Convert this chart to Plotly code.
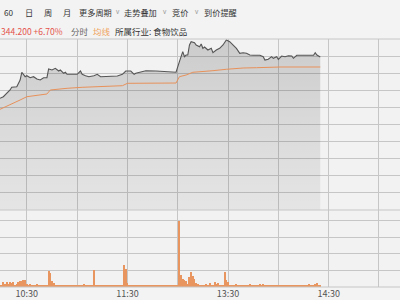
import plotly.graph_objects as go

# ---------------- data (minutes since 9:30 open) ----------------
price_min = [44, 46, 50, 51, 54, 56, 57, 59, 60, 62, 64, 66, 68, 70, 72, 73, 75, 76, 77, 79,
             80, 82, 83, 84, 90, 92, 93, 95, 97, 100, 102, 104, 108, 114, 117, 119, 122, 124, 125, 129,
             131, 137, 143, 149, 151, 152, 153, 154, 155, 156, 157, 158, 160, 161, 163, 164, 165, 166, 168, 170,
             171, 173, 175, 177, 178, 179, 181, 183, 185, 187, 189, 191, 193, 195, 199, 201, 202, 204, 206, 207,
             209, 210, 212, 214, 216, 218, 219, 221, 225, 229, 231, 232, 233, 235]
price = [330.97, 331.48, 333.63, 334.49, 334.68, 336.82, 339.29, 337.88, 338.20, 337.56,
         337.88, 337.14, 336.82, 337.56, 337.56, 340.34, 340.02, 340.34, 340.57, 339.70,
         340.02, 338.97, 339.29, 338.65, 338.65, 339.70, 338.65, 338.20, 337.88, 338.20,
         338.65, 337.88, 337.88, 338.10, 338.65, 339.70, 339.70, 338.65, 338.97, 339.48,
         339.80, 339.70, 339.48, 339.29, 342.68, 344.28, 345.88, 344.28, 344.82, 344.82,
         348.02, 349.08, 348.76, 348.02, 347.48, 348.34, 346.96, 347.38, 346.42, 346.96,
         345.56, 346.42, 346.96, 348.02, 348.76, 349.62, 349.08, 348.02, 346.96, 345.37,
         345.56, 345.37, 344.82, 344.73, 344.73, 344.28, 343.22, 343.45, 344.28, 343.77,
         344.28, 343.45, 344.50, 344.28, 344.60, 344.50, 343.77, 344.73, 344.73, 344.73,
         344.73, 345.56, 344.82, 344.20]

avg_min = [44, 50, 56, 60, 64, 72, 74, 78, 84, 93, 104, 117, 120, 127, 139, 149, 151, 155, 159, 163,
           171, 179, 183, 189, 197, 205, 211, 235]
avg = [327.45, 328.83, 330.43, 331.48, 331.80, 332.35, 333.63, 333.94, 334.17, 334.49,
       334.68, 335.00, 335.77, 335.77, 335.86, 335.86, 337.88, 338.42, 339.29, 339.54,
       339.80, 340.25, 340.44, 340.66, 340.76, 340.89, 340.98, 340.98]

vol_min = list(range(44, 236))
volume = [70, 60, 150, 90, 160, 100, 150, 120, 150, 60,      # 44-53
          80, 140, 180, 180, 200, 220, 90, 50, 100, 45,      # 54-63
          70, 50, 100, 45, 60, 45, 40, 50, 40, 470,          # 64-73
          420, 180, 130, 50, 40, 45, 40, 45, 40, 50,         # 74-83
          40, 45, 40, 40, 50, 40, 45, 40, 45, 40,            # 84-93
          90, 50, 40, 45, 40, 45, 520, 50, 40, 45,           # 94-103
          40, 40, 45, 40, 40, 45, 40, 40, 45, 40,            # 104-113
          70, 45, 40, 50, 670, 540, 120, 50, 45, 40,         # 114-123
          40, 45, 40, 40, 45, 40, 40, 45, 40, 40,            # 124-133
          45, 40, 40, 45, 40, 40, 45, 40, 40, 45,            # 134-143
          40, 40, 45, 40, 50, 45, 50, 1970, 370, 240,        # 144-153
          200, 170, 90, 300, 440, 320, 240, 120, 80, 70,     # 154-163
          50, 60, 50, 90, 50, 120, 60, 50, 140, 90,          # 164-173
          120, 50, 45, 60, 440, 220, 140, 60, 45, 50,        # 174-183
          45, 80, 45, 40, 60, 45, 40, 45, 40, 100,           # 184-193
          45, 70, 40, 45, 40, 100, 45, 90, 40, 45,           # 194-203
          40, 40, 45, 40, 40, 45, 40, 40, 45, 40,            # 204-213
          40, 45, 40, 40, 70, 40, 45, 40, 40, 45,            # 214-223
          40, 40, 45, 70, 100, 45, 45, 40, 90, 120,          # 224-233
          45, 40]                                            # 234-235

prev_close = 322.59
price_step = 5.47
grid_vals = [prev_close + k * price_step for k in range(-5, 6)]

time_ticks = [60, 90, 120, 150, 180, 210, 240, 270]
time_text = ["10:30", "", "11:30", "", "13:30", "", "14:30", ""]

header1 = [("60", 2.0), ("日", 22.5), ("周", 41.5), ("月", 60.5), ("更多周期", 77.0),
           ("走势叠加", 122.0), ("竞价", 169.5), ("到价提醒", 201.5)]
chevrons = [113.5, 160.5, 192.5]

# ---------------- figure ----------------
W, H = 400, 300
TOP, BOT = 39, 13
plot_h = H - TOP - BOT
split = (287 - 210) / plot_h

CJK = "Noto Sans CJK SC, Noto Sans, sans-serif"
grid_c = "#c6c6c6"

fig = go.Figure()

fig.add_trace(go.Scatter(
    x=price_min, y=price, mode="lines",
    line=dict(color="#555555", width=1.1),
    fill="tozeroy",
    fillgradient=dict(type="vertical",
                      colorscale=[[0, "rgba(0,0,0,0.055)"], [0.5, "rgba(0,0,0,0.10)"],
                                  [1, "rgba(0,0,0,0.16)"]],
                      start=grid_vals[0], stop=grid_vals[-1]),
    hoverinfo="skip", xaxis="x", yaxis="y"))

fig.add_trace(go.Scatter(
    x=avg_min, y=avg, mode="lines",
    line=dict(color="#e8915a", width=1),
    hoverinfo="skip", xaxis="x", yaxis="y"))

fig.add_trace(go.Bar(
    x=vol_min, y=volume, width=0.6,
    marker=dict(color="#e8955f", line=dict(width=0)),
    hoverinfo="skip", xaxis="x2", yaxis="y2"))

x_range = [44, 44 + W / 1.6767]

fig.update_layout(
    width=W, height=H,
    margin=dict(l=0, r=0, t=TOP, b=BOT, pad=0),
    paper_bgcolor="#f3f3f3", plot_bgcolor="#f2f2f2",
    showlegend=False, bargap=0,
    xaxis=dict(range=x_range, domain=[0, 1], anchor="y",
               tickvals=time_ticks, ticktext=[""] * len(time_ticks),
               showgrid=True, gridcolor=grid_c, gridwidth=1,
               showline=False, zeroline=False, ticks=""),
    yaxis=dict(range=[grid_vals[0], grid_vals[-1]], domain=[split, 1], anchor="x",
               tickvals=grid_vals, showticklabels=False,
               showgrid=True, gridcolor=grid_c, gridwidth=1,
               zeroline=False, showline=False, ticks=""),
    xaxis2=dict(range=x_range, domain=[0, 1], anchor="y2", matches="x",
                tickvals=time_ticks, ticktext=time_text,
                tickfont=dict(family=CJK, size=9, color="#555555"),
                showgrid=True, gridcolor=grid_c, gridwidth=1,
                showline=False, zeroline=False, ticks="", ticklen=0),
    yaxis2=dict(range=[0, 77 / 16.65 * 500], domain=[0, split], anchor="x2",
                tickvals=[0, 500, 1000, 1500, 2000], showticklabels=False,
                showgrid=True, gridcolor=grid_c, gridwidth=1,
                zeroline=False, showline=False, ticks=""),
)

# panel borders
for yp in (1, split, 0):
    fig.add_shape(type="line", xref="paper", yref="paper", x0=0, x1=1, y0=yp, y1=yp,
                  line=dict(color=grid_c, width=1))


def py(pix):
    return (H - BOT - pix) / plot_h


for txt, px in header1:
    fig.add_annotation(text=txt, x=px / W, y=py(12.5), xref="paper", yref="paper",
                       xanchor="left", yanchor="middle", showarrow=False,
                       font=dict(family=CJK, size=8.2, color="#333333"))
for px in chevrons:
    fig.add_annotation(text="v", x=px / W, y=py(12.0), xref="paper", yref="paper",
                       xanchor="left", yanchor="middle", showarrow=False,
                       font=dict(family="Noto Sans", size=6.5, color="#999999"))

row2 = [("344.200 +6.70%", -1.0, "#e5544c"), ("分时", 68.5, "#666666"),
        ("均线", 90.5, "#f0a35e"), ("所属行业: 食物饮品", 113.0, "#333333")]
for txt, px, col in row2:
    fig.add_annotation(text=txt, x=px / W, y=py(30.5), xref="paper", yref="paper",
                       xanchor="left", yanchor="middle", showarrow=False,
                       font=dict(family=CJK, size=8.5, color=col))

fig.write_html("out.html")
